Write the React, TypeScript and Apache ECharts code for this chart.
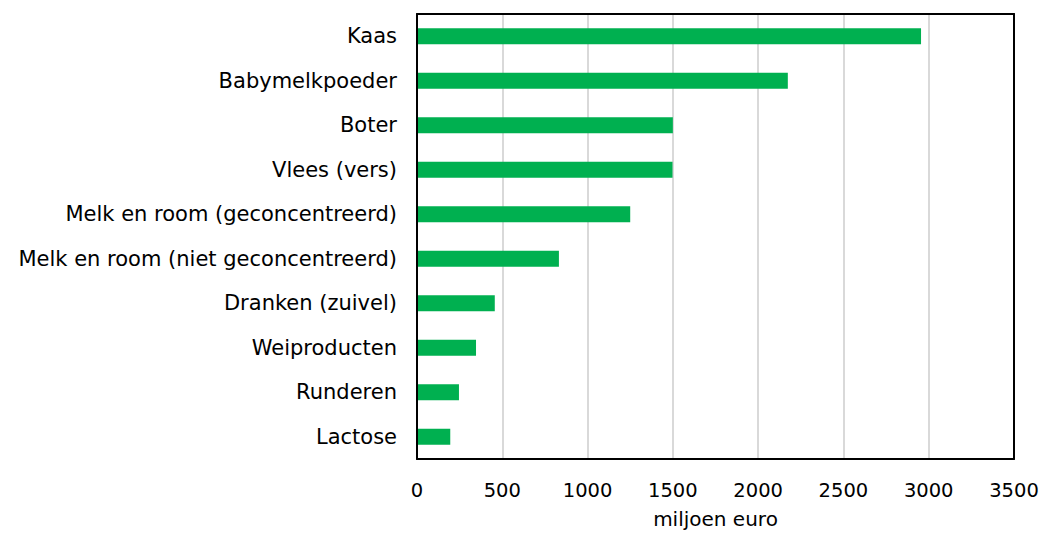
import React, { useEffect, useRef } from "react";
import * as echarts from "echarts";

const categories = [
  "Kaas",
  "Babymelkpoeder",
  "Boter",
  "Vlees (vers)",
  "Melk en room (geconcentreerd)",
  "Melk en room (niet geconcentreerd)",
  "Dranken (zuivel)",
  "Weiproducten",
  "Runderen",
  "Lactose",
];
const values = [2955, 2174, 1500, 1498, 1250, 832, 456, 346, 246, 195];
const xTicks = [0, 500, 1000, 1500, 2000, 2500, 3000, 3500];
const xAxisName = "miljoen euro";

export default function App() {
  const ref = useRef<HTMLDivElement>(null);
  useEffect(() => {
    if (!ref.current) return;
    const chart = echarts.init(ref.current, null, { renderer: "svg" });
    const font = "'DejaVu Sans', Verdana, sans-serif";
    const frameLine = { show: true, onZero: false, lineStyle: { color: "#000", width: 2 } };
    chart.setOption({
      animation: false,
      grid: { left: 417, right: 30, top: 14, bottom: 74, containLabel: false, outerBoundsMode: "none" },
      xAxis: [
        {
          type: "value",
          min: xTicks[0],
          max: xTicks[xTicks.length - 1],
          interval: 500,
          name: xAxisName,
          nameLocation: "middle",
          nameGap: 50,
          nameTextStyle: { fontFamily: font, fontSize: 20, color: "#000" },
          axisLine: frameLine,
          axisTick: { show: false },
          axisLabel: { fontFamily: font, fontSize: 19.5, color: "#000", margin: 21, formatter: (v: number) => String(v) },
          splitLine: { show: true, showMinLine: false, showMaxLine: false, lineStyle: { color: "#d9d9d9", width: 2 } },
        },
        {
          type: "value",
          position: "top",
          min: xTicks[0],
          max: xTicks[xTicks.length - 1],
          interval: 500,
          axisLine: frameLine,
          axisTick: { show: false },
          axisLabel: { show: false },
          splitLine: { show: false },
        },
      ],
      yAxis: [
        {
          type: "category",
          data: categories,
          inverse: true,
          axisLine: frameLine,
          axisTick: { show: false },
          axisLabel: { fontFamily: font, fontSize: 21, color: "#000", margin: 20 },
          splitLine: { show: false },
          z: 20,
        },
        {
          type: "category",
          data: categories,
          inverse: true,
          position: "right",
          axisLine: frameLine,
          axisTick: { show: false },
          axisLabel: { show: false },
          splitLine: { show: false },
          z: 20,
        },
      ],
      series: [
        {
          type: "bar",
          data: values,
          barWidth: 16,
          itemStyle: { color: "#00b050" },
          z: 10,
        },
      ],
    });
    return () => chart.dispose();
  }, []);
  return <div ref={ref} style={{ width: 1044, height: 533, position: "absolute", left: 0, top: 0 }} />;
}
